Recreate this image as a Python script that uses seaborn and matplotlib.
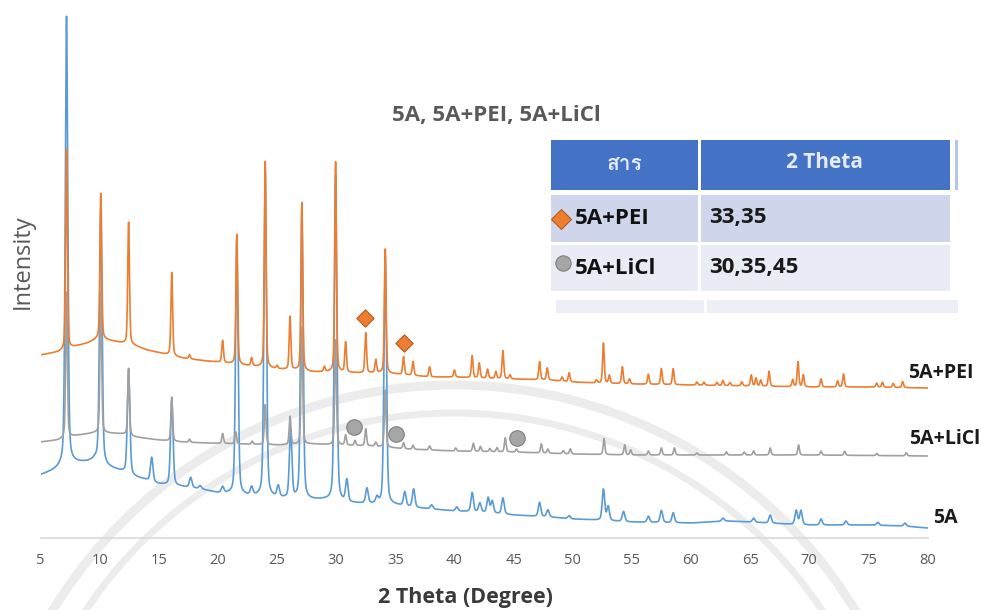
import numpy as np
import pandas as pd
import matplotlib
matplotlib.use("Agg")
import matplotlib.pyplot as plt
from matplotlib import font_manager, ft2font
from matplotlib.patches import Rectangle, Circle
from matplotlib.lines import Line2D
from matplotlib.transforms import IdentityTransform
import seaborn as sns

# ------------------------------------------------------------------
# XRD data (intensity in arbitrary units, traces already stacked)
# ------------------------------------------------------------------
two_theta_ticks = [5, 10, 15, 20, 25, 30, 35, 40, 45, 50, 55, 60, 65, 70, 75, 80]
samples = ["5A", "5A+LiCl", "5A+PEI"]

# background level of each trace: (2theta, intensity)
zeolite_background = [
    (5.0, 63), (6.0, 67), (6.6, 70), (7.8, 75), (9.0, 76), (9.6, 78), (10.7, 71),
    (11.5, 68), (12.0, 66), (13.0, 61), (14.0, 58), (15.0, 54), (16.6, 52),
    (18.5, 49), (20.0, 45), (21.0, 44), (22.5, 42), (25.0, 40), (27.0, 38),
    (29.0, 38), (31.0, 35), (33.0, 34), (35.0, 33), (37.0, 30), (40.0, 27),
    (42.0, 26), (45.0, 23), (48.0, 21), (50.0, 19), (52.0, 18), (55.0, 16),
    (60.0, 15), (63.0, 17), (65.0, 16), (68.0, 14), (70.0, 13), (75.0, 13),
    (78.0, 12), (80.0, 10),
]
licl_background = [
    (5.0, 96), (6.5, 98), (7.8, 102), (9.5, 105), (10.6, 105), (12.0, 104),
    (13.0, 101), (15.0, 98), (17.0, 96), (19.0, 95), (22.0, 94), (25.0, 93),
    (28.0, 94), (30.0, 93), (33.0, 92), (36.0, 89), (40.0, 87), (45.0, 86),
    (50.0, 84), (55.0, 83), (60.0, 83), (70.0, 83), (80.0, 82),
]
pei_background = [
    (5.0, 183), (6.5, 186), (7.8, 191), (9.0, 195), (9.8, 199), (10.6, 198),
    (11.5, 196), (12.8, 193), (14.0, 188), (15.5, 184), (17.0, 180), (19.0, 177),
    (20.0, 176), (22.0, 173), (23.5, 171), (25.0, 169), (26.5, 168), (28.0, 166),
    (30.0, 166), (32.0, 165), (34.0, 165), (36.0, 163), (38.0, 161), (40.0, 161),
    (42.0, 160), (45.0, 159), (48.0, 158), (50.0, 156), (52.0, 155), (55.0, 154),
    (60.0, 153), (65.0, 152), (70.0, 151), (75.0, 151), (80.0, 150),
]

# reflections: (2theta, height above background)
zeolite_peaks = [
    (7.2, 449), (10.1, 257), (12.45, 104), (14.4, 24), (16.1, 85), (17.7, 10),
    (18.5, 3), (20.4, 6), (21.6, 255), (22.85, 8), (24.0, 327), (25.1, 11),
    (26.15, 69), (27.1, 290), (29.95, 326), (30.9, 22), (32.6, 15), (33.45, 6),
    (34.15, 249), (35.8, 14), (36.55, 18), (38.07, 4), (40.2, 4), (41.5, 19),
    (42.15, 9), (42.85, 15), (43.2, 12), (44.1, 16), (47.2, 14), (47.9, 7),
    (49.7, 3), (52.6, 31), (53.0, 14), (54.3, 10), (56.4, 6), (57.5, 12),
    (58.5, 10), (62.7, 3), (65.3, 4), (66.7, 8), (68.9, 14), (69.3, 14),
    (71.0, 6), (73.1, 4), (75.8, 3), (78.1, 3),
]
licl_peaks = [
    (7.2, 146), (10.1, 141), (12.45, 67), (16.1, 44), (17.6, 3), (20.4, 10),
    (21.5, 12), (22.9, 3), (24.0, 40), (26.1, 28), (27.1, 117), (29.95, 105),
    (30.8, 10), (31.6, 5), (32.5, 17), (33.35, 4), (34.15, 57), (35.7, 6),
    (36.5, 4), (37.9, 4), (40.1, 3), (41.6, 8), (42.2, 5), (43.0, 3), (43.6, 4),
    (44.3, 14), (45.25, 3), (47.35, 9), (47.9, 4), (49.2, 3), (49.8, 5),
    (52.65, 16), (54.4, 10), (54.9, 5), (56.4, 4), (57.5, 7), (58.6, 7),
    (60.5, 2), (63.0, 3), (64.5, 3), (65.3, 4), (66.7, 7), (69.1, 10),
    (71.0, 4), (73.0, 4), (75.7, 2), (78.2, 3),
]
pei_peaks = [
    (7.2, 200), (10.1, 146), (12.45, 122), (16.1, 83), (17.6, 4), (20.4, 22),
    (21.6, 130), (22.85, 8), (24.0, 206), (25.0, 3), (26.1, 53), (27.1, 168),
    (29.0, 5), (29.95, 210), (30.8, 30), (32.5, 40), (33.35, 13), (34.15, 124),
    (35.7, 18), (36.5, 14), (37.9, 10), (40.0, 7), (41.5, 22), (42.1, 15),
    (42.8, 9), (43.5, 7), (44.1, 28), (44.7, 4), (47.2, 18), (47.85, 12),
    (49.1, 4), (49.7, 9), (52.0, 3), (52.6, 40), (53.1, 8), (54.2, 17),
    (54.8, 5), (56.4, 10), (57.5, 16), (58.5, 16), (60.5, 3), (61.1, 3),
    (62.2, 3), (62.7, 5), (63.3, 3), (64.3, 4), (65.1, 11), (65.5, 8),
    (65.9, 6), (66.6, 15), (68.6, 7), (69.05, 25), (69.5, 12), (71.0, 8),
    (72.4, 6), (72.9, 13), (75.7, 4), (76.2, 5), (77.1, 4), (77.9, 6),
]

# new phases marked on the modified samples
pei_marker_theta = [32.4, 35.7]
pei_marker_level = [220, 195]
licl_marker_theta = [31.5, 35.1, 45.3]
licl_marker_level = [111, 104, 100]

table_header = ["สาร", "2 Theta"]
table_rows = [("5A+PEI", "33,35"), ("5A+LiCl", "30,35,45")]

# ------------------------------------------------------------------
# build the diffraction profiles
# ------------------------------------------------------------------
grid = np.round(np.arange(5.0, 80.0 + 1e-9, 0.01), 2)
peak_fwhm = {"5A": 0.25, "5A+LiCl": 0.17, "5A+PEI": 0.17}


def profile(background, peaks, fwhm, eta=0.35):
    bx, by = zip(*background)
    y = np.interp(grid, bx, by).astype(float)
    hw = fwhm / 2.0
    for centre, height in peaks:
        d = (grid - centre) / hw
        lor = 1.0 / (1.0 + d ** 2)
        gau = np.exp(-np.log(2) * d ** 2)
        y += height * (eta * lor + (1 - eta) * gau)
    return y


curves = {
    "5A": profile(zeolite_background, zeolite_peaks, peak_fwhm["5A"]),
    "5A+LiCl": profile(licl_background, licl_peaks, peak_fwhm["5A+LiCl"]),
    "5A+PEI": profile(pei_background, pei_peaks, peak_fwhm["5A+PEI"]),
}
df = pd.concat(
    [pd.DataFrame({"two_theta": grid, "intensity": curves[s], "sample": s}) for s in samples],
    ignore_index=True,
)

# ------------------------------------------------------------------
# styling
# ------------------------------------------------------------------
sns.set_theme(style="white")
plt.rcParams["font.family"] = ["Open Sans", "DejaVu Sans"]


def font_covering(char):
    for path in sorted(font_manager.findSystemFonts()):
        try:
            if ft2font.FT2Font(path).get_char_index(ord(char)):
                return font_manager.FontProperties(fname=path)
        except Exception:
            continue
    return None


thai_font = font_covering("ส")

palette = {"5A": "#5B9BD5", "5A+LiCl": "#A0A0A0", "5A+PEI": "#ED7D31"}
W, H = 981, 610


def fx(px):
    return px / W


def fy(py):
    return 1 - py / H


fig = plt.figure(figsize=(W / 100, H / 100), dpi=100)
fig.patch.set_facecolor("white")

# faint seal rings in the page background
for radius, lw in ((470, 6.5), (442, 5.0)):
    fig.add_artist(Circle((454, H - 855), radius, transform=IdentityTransform(),
                          fill=False, edgecolor="#ececec", linewidth=lw, zorder=-5))

ax = fig.add_axes([fx(40.5), 72 / H, 887 / W, 528 / H])
ax.set_facecolor("none")

sns.lineplot(data=df, x="two_theta", y="intensity", hue="sample", hue_order=samples,
             palette=palette, estimator=None, linewidth=1.2, legend=False,
             sort=False, ax=ax)

sns.scatterplot(x=pei_marker_theta, y=pei_marker_level, marker="D", s=78,
                color="#ED7D31", edgecolor="#B85C1E", linewidth=0.8, ax=ax, zorder=5)
sns.scatterplot(x=licl_marker_theta, y=licl_marker_level, marker="o", s=125,
                color="#A6A6A6", edgecolor="#7F7F7F", linewidth=0.8, ax=ax, zorder=5)

ax.set_xlim(5, 80)
ax.set_ylim(0, 528)
ax.set_xticks(two_theta_ticks)
ax.set_xticklabels([str(t) for t in two_theta_ticks])
ax.set_yticks([])
ax.set_xlabel("")
ax.set_ylabel("")
ax.tick_params(axis="x", length=0, pad=11, labelsize=10.5, labelcolor="#595959")
for side in ("left", "right", "top"):
    ax.spines[side].set_visible(False)
ax.spines["bottom"].set_color("#D9D9D9")
ax.spines["bottom"].set_linewidth(1.2)

# titles and axis labels
fig.text(fx(496), fy(115), "5A, 5A+PEI, 5A+LiCl", ha="center", va="center",
         fontsize=16, fontweight="bold", color="#595959")
fig.text(fx(465), fy(597), "2 Theta (Degree)", ha="center", va="center",
         fontsize=15.5, fontweight="bold", color="#3A3A3A")
fig.text(fx(23), fy(262), "Intensity", ha="center", va="center", rotation=90,
         fontsize=17, color="#595959")

# sample names at the end of each trace
for name, (px, py) in zip(samples, [(933, 518), (909, 439), (908, 373)]):
    fig.text(fx(px), fy(py), name, ha="left", va="center", fontsize=14,
             fontweight="bold", color="#1A1A1A")


# ------------------------------------------------------------------
# peak table
# ------------------------------------------------------------------
def box(x0, y0, x1, y1, color):
    fig.add_artist(Rectangle((fx(x0), fy(y1)), fx(x1) - fx(x0), fy(y0) - fy(y1),
                             transform=fig.transFigure, facecolor=color,
                             edgecolor="none", zorder=3))


box(551, 140, 698, 190, "#4472C4")
box(701, 140, 950, 190, "#4472C4")
box(955, 140, 958, 190, "#B4C7E7")
box(551, 195, 698, 242, "#CFD5EA")
box(701, 195, 950, 242, "#CFD5EA")
box(551, 245, 698, 291, "#E9EBF5")
box(701, 245, 950, 291, "#E9EBF5")
box(556, 300, 704, 313, "#EDEFF6")
box(707, 300, 958, 313, "#EDEFF6")

header_kw = dict(ha="center", va="center", color="#E4EAF6", zorder=4)
if thai_font is not None:
    fp = thai_font.copy()
    fp.set_size(15)
    fig.text(fx(625), fy(165), table_header[0], fontproperties=fp, **header_kw)
else:
    fig.text(fx(625), fy(165), table_header[0], fontsize=15, **header_kw)
fig.text(fx(825), fy(163), table_header[1], fontsize=15, fontweight="bold", **header_kw)

row_y = [219, 268]
for (name, angles), ry in zip(table_rows, row_y):
    fig.text(fx(575), fy(ry), name, ha="left", va="center", fontsize=16,
             fontweight="bold", color="#111111", zorder=4)
    fig.text(fx(709), fy(ry - 1), angles, ha="left", va="center", fontsize=16,
             fontweight="bold", color="#1A1A1A", zorder=4)

fig.add_artist(Line2D([fx(561)], [fy(219)], marker="D", markersize=10,
                      markerfacecolor="#ED7D31", markeredgecolor="#B85C1E",
                      markeredgewidth=0.8, transform=fig.transFigure, zorder=5))
fig.add_artist(Line2D([fx(563)], [fy(263)], marker="o", markersize=11,
                      markerfacecolor="#A6A6A6", markeredgecolor="#7F7F7F",
                      markeredgewidth=0.8, transform=fig.transFigure, zorder=5))

fig.savefig("out.png", dpi=100, facecolor="white")
